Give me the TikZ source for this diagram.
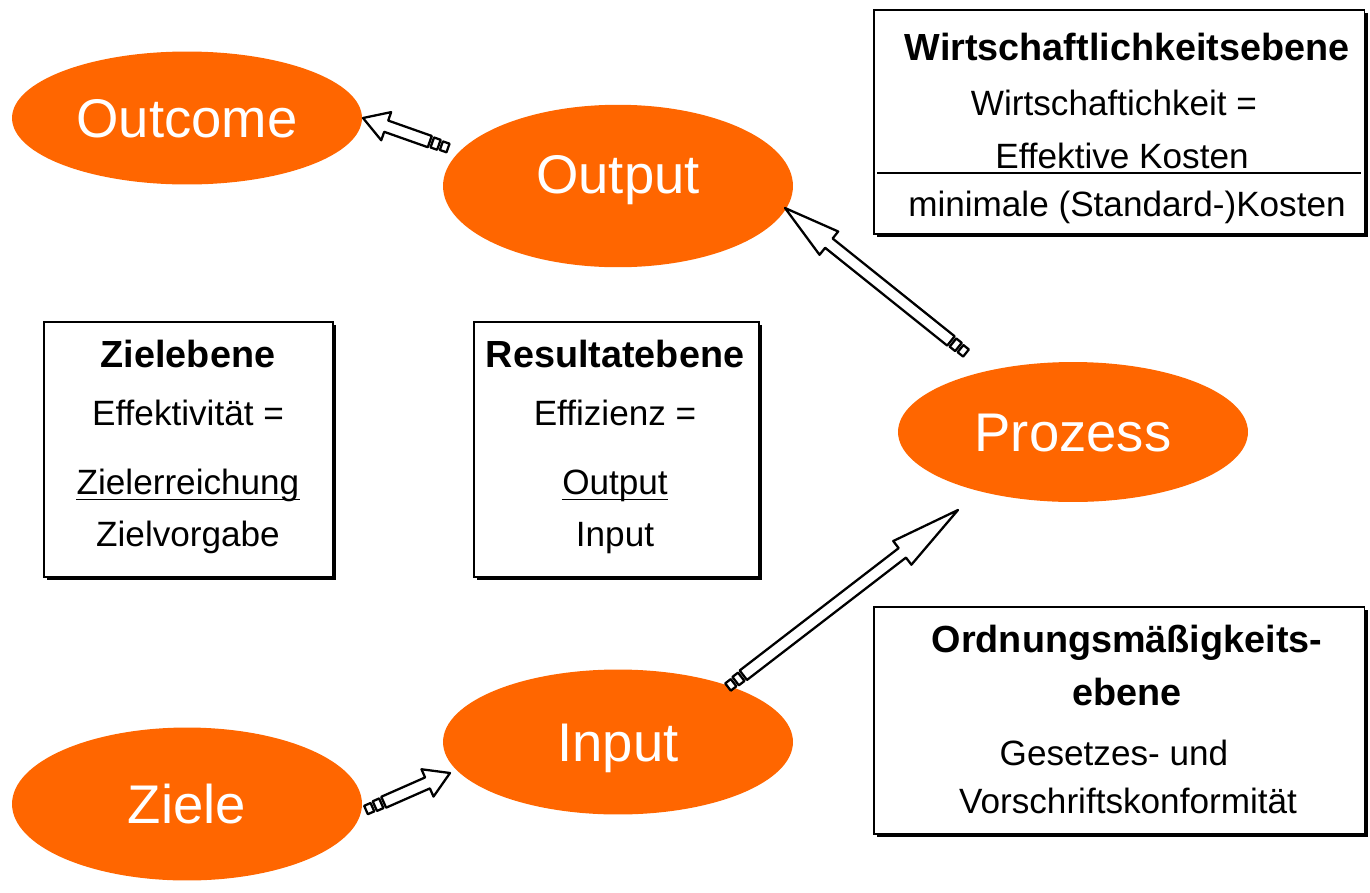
\documentclass[tikz,border=0pt]{standalone}
\usepackage{fontspec}
\setmainfont{Liberation Sans}
\usepackage{tikz}
\usetikzlibrary{calc, shadows, shapes.geometric}
\definecolor{blobcolor}{HTML}{FF6600}
\tikzstyle{blob} = [ellipse, fill=blobcolor, text=white, minimum width=7cm, inner sep=0pt, text height=22pt, text depth=0pt, font=\fontsize{31}{36}\selectfont]
\tikzstyle{infobox} = [draw, line width=0.9pt, fill=white, inner sep=0pt, anchor=north west, general shadow={fill=black, shadow xshift=2pt, shadow yshift=-2pt}]
\tikzstyle{boxtitle} = [inner sep=0pt, anchor=base, font=\bfseries\fontsize{21.5}{25}\selectfont]
\tikzstyle{boxtext} = [inner sep=0pt, anchor=base, font=\fontsize{20}{24}\selectfont]
\tikzstyle{arrowline} = [draw=black, fill=white, line width=1.3pt, line join=round]

% block arrow from tail #2 to tip #3, head length #1
\newcommand{\fatarrow}[3][14pt]{%
  \coordinate (fa-t1) at ($(#2)!4pt!(#3)$);
  \coordinate (fa-t2) at ($(#2)!5.5pt!(#3)$);
  \coordinate (fa-t3) at ($(#2)!9.5pt!(#3)$);
  \coordinate (fa-s) at ($(#2)!11pt!(#3)$);
  \coordinate (fa-h) at ($(#3)!#1!(#2)$);
  \draw[arrowline] ($(#2)!2.6pt!90:(#3)$) -- ($(fa-t1)!2.6pt!90:(#3)$)
    -- ($(fa-t1)!2.6pt!-90:(#3)$) -- ($(#2)!2.6pt!-90:(#3)$) -- cycle;
  \draw[arrowline] ($(fa-t2)!3pt!90:(#3)$) -- ($(fa-t3)!3pt!90:(#3)$)
    -- ($(fa-t3)!3pt!-90:(#3)$) -- ($(fa-t2)!3pt!-90:(#3)$) -- cycle;
  \draw[arrowline] ($(fa-s)!3.4pt!90:(#3)$) -- ($(fa-h)!3.4pt!-90:(#2)$)
    -- ($(fa-h)!8.5pt!-90:(#2)$) -- (#3) -- ($(fa-h)!8.5pt!90:(#2)$)
    -- ($(fa-h)!3.4pt!90:(#2)$) -- ($(fa-s)!3.4pt!-90:(#3)$) -- cycle;
}

\begin{document}
\begin{tikzpicture}[x=0.02cm, y=-0.02cm]
  \useasboundingbox (0,0) rectangle (1370,893);

  % ellipses
  \node[blob, minimum height=2.66cm] (outcome) at (187,118) {Outcome};
  \node[blob, minimum height=3.25cm, text depth=14pt] (output) at (618,186) {Output};
  \node[blob, minimum height=2.8cm] (prozess) at (1073,432) {Prozess};
  \node[blob, minimum height=2.9cm] (input) at (618,742) {Input};
  \node[blob, minimum height=3.06cm] (ziele) at (187,804) {Ziele};

  % arrow ends
  \coordinate (outcome-in) at (363,118);
  \coordinate (output-out) at (448,148);
  \coordinate (output-in) at (785,208);
  \coordinate (prozess-out) at (966,353);
  \coordinate (prozess-in) at (958,510);
  \coordinate (input-out) at (728,687);
  \coordinate (input-in) at (450,773);
  \coordinate (ziele-out) at (366,810);

  \fatarrow{output-out}{outcome-in}
  \fatarrow[32pt]{prozess-out}{output-in}
  \fatarrow[40pt]{input-out}{prozess-in}
  \fatarrow{ziele-out}{input-in}

  % Wirtschaftlichkeitsebene
  \node[infobox, minimum width=9.82cm, minimum height=4.48cm] (wbox) at (873,9) {};
  \node[boxtitle] (w-title) at (1127,60) {Wirtschaftlichkeitsebene};
  \node[boxtext] (w-eq) at (1114,115) {Wirtschaftichkeit =};
  \node[boxtext] (w-num) at (1122,168) {Effektive Kosten};
  \node[boxtext] (w-den) at (1127,216) {minimale (Standard-)Kosten};
  \draw[line width=0.8pt] (877,173) -- (1361,173);

  % Zielebene
  \node[infobox, minimum width=5.78cm, minimum height=5.1cm] (zbox) at (43,321) {};
  \node[boxtitle] (z-title) at (188,367) {Zielebene};
  \node[boxtext] (z-eq) at (188,425) {Effektivität =};
  \node[boxtext] (z-num) at (188,494) {Zielerreichung};
  \node[boxtext] (z-den) at (188,546) {Zielvorgabe};
  \draw[line width=0.8pt] ([yshift=-3pt]z-num.base west) -- ([yshift=-3pt]z-num.base east);

  % Resultatebene
  \node[infobox, minimum width=5.7cm, minimum height=5.1cm] (rbox) at (473,321) {};
  \node[boxtitle] (r-title) at (615,367) {Resultatebene};
  \node[boxtext] (r-eq) at (615,425) {Effizienz =};
  \node[boxtext] (r-num) at (615,494) {Output};
  \node[boxtext] (r-den) at (615,546) {Input};
  \draw[line width=0.8pt] ([yshift=-3pt]r-num.base west) -- ([yshift=-3pt]r-num.base east);

  % Ordnungsmaessigkeitsebene
  \node[infobox, minimum width=9.82cm, minimum height=4.54cm] (obox) at (873,606) {};
  \node[boxtitle] (o-title1) at (1127,652) {Ordnungsmäßigkeits-};
  \node[boxtitle] (o-title2) at (1127,705) {ebene};
  \node[boxtext] (o-line1) at (1114,765) {Gesetzes- und};
  \node[boxtext] (o-line2) at (1128,813) {Vorschriftskonformität};
\end{tikzpicture}
\end{document}
